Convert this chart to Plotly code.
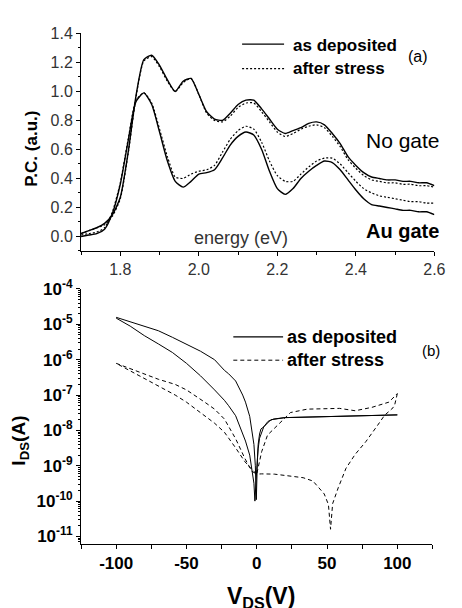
import plotly.graph_objects as go

W, H = 462, 608

# ---------------- Panel (a): photocurrent spectra ----------------
energy = [1.70, 1.72, 1.74, 1.76, 1.78, 1.80, 1.82, 1.84, 1.86, 1.88,
          1.90, 1.92, 1.94, 1.96, 1.98, 2.00, 2.02, 2.04, 2.06, 2.08,
          2.10, 2.12, 2.14, 2.16, 2.18, 2.20, 2.22, 2.24, 2.26, 2.28,
          2.30, 2.32, 2.34, 2.36, 2.38, 2.40, 2.42, 2.44, 2.46, 2.48,
          2.50, 2.52, 2.54, 2.56, 2.58, 2.60]

pc_nogate_dep = [0.02, 0.04, 0.06, 0.09, 0.15, 0.27, 0.58, 0.97, 1.22, 1.25,
                 1.18, 1.08, 1.00, 1.07, 1.09, 0.98, 0.86, 0.81, 0.80, 0.85,
                 0.91, 0.94, 0.94, 0.88, 0.81, 0.74, 0.71, 0.73, 0.75, 0.78,
                 0.79, 0.77, 0.71, 0.64, 0.55, 0.49, 0.44, 0.41, 0.40, 0.39,
                 0.39, 0.38, 0.38, 0.37, 0.37, 0.35]
pc_nogate_str = [0.02, 0.04, 0.06, 0.08, 0.14, 0.26, 0.57, 0.96, 1.21, 1.24,
                 1.17, 1.07, 1.00, 1.06, 1.09, 0.98, 0.85, 0.80, 0.79, 0.83,
                 0.89, 0.92, 0.92, 0.86, 0.79, 0.72, 0.69, 0.71, 0.74, 0.76,
                 0.77, 0.75, 0.69, 0.62, 0.53, 0.47, 0.42, 0.39, 0.38, 0.37,
                 0.37, 0.36, 0.36, 0.35, 0.35, 0.34]
pc_augate_dep = [0.00, 0.01, 0.02, 0.05, 0.16, 0.36, 0.66, 0.93, 0.99, 0.91,
                 0.72, 0.52, 0.38, 0.34, 0.38, 0.43, 0.44, 0.46, 0.54, 0.63,
                 0.69, 0.72, 0.70, 0.60, 0.45, 0.33, 0.29, 0.33, 0.40, 0.45,
                 0.49, 0.52, 0.51, 0.46, 0.39, 0.32, 0.26, 0.22, 0.21, 0.20,
                 0.19, 0.18, 0.18, 0.17, 0.17, 0.15]
pc_augate_str = [0.01, 0.02, 0.03, 0.06, 0.17, 0.37, 0.67, 0.94, 0.99, 0.92,
                 0.74, 0.55, 0.41, 0.40, 0.43, 0.45, 0.46, 0.49, 0.58, 0.67,
                 0.73, 0.76, 0.74, 0.65, 0.52, 0.42, 0.38, 0.38, 0.43, 0.48,
                 0.52, 0.54, 0.54, 0.50, 0.44, 0.38, 0.33, 0.30, 0.28, 0.27,
                 0.26, 0.25, 0.24, 0.24, 0.23, 0.23]

# ---------------- Panel (b): I-V characteristics ----------------
v_dep_fwd = [-100, -90, -80, -70, -60, -50, -40, -30, -23, -20, -15, -10, -8, -5,
             -3.5, -2, -1, -0.3, 0.5, 1, 2, 3, 5, 8, 12, 20, 40, 60, 80, 100]
i_dep_fwd = [1.58e-5, 1.2e-5, 9.1e-6, 6.6e-6, 4.3e-6, 2.8e-6, 1.74e-6, 1.0e-6, 5.0e-7,
             4.0e-7, 2.5e-7, 1.0e-7, 6.3e-8, 2.5e-8, 1.1e-8, 4.0e-9, 1.0e-9, 1.1e-10,
             1.6e-9, 4.0e-9, 7.9e-9, 1.1e-8, 1.26e-8, 1.8e-8, 2.1e-8, 2.3e-8, 2.4e-8,
             2.5e-8, 2.6e-8, 2.75e-8]
v_dep_rev = [100, 60, 20, 10, 5, 2, 1, 0, -1.3, -2, -3.5, -5, -8, -10, -15, -20,
             -23, -30, -40, -50, -60, -70, -80, -90, -100]
i_dep_rev = [2.75e-8, 2.5e-8, 2.3e-8, 2.0e-8, 1.26e-8, 6.0e-9, 3.0e-9, 8.0e-10, 1.0e-10,
             3.2e-10, 8.5e-10, 2.0e-9, 5.0e-9, 7.9e-9, 2.6e-8, 5.0e-8, 7.1e-8, 1.4e-7,
             3.5e-7, 7.9e-7, 1.6e-6, 2.8e-6, 4.8e-6, 8.9e-6, 1.5e-5]

v_str_fwd = [-100, -90, -79, -70, -58, -50, -37, -30, -23, -15, -8.4, -3.5, 0,
             2, 3.5, 7.7, 14.7, 24, 36, 50, 59, 70, 82, 94, 98.6, 100]
i_str_fwd = [7.9e-7, 5.6e-7, 3.7e-7, 2.8e-7, 2.0e-7, 1.4e-7, 6.3e-8, 4.0e-8, 2.1e-8,
             5.8e-9, 1.6e-9, 7.0e-10, 5.8e-10, 1.26e-9, 2.5e-9, 7.4e-9, 1.4e-8, 3.2e-8,
             4.0e-8, 4.2e-8, 4.2e-8, 3.6e-8, 4.5e-8, 6.3e-8, 9.5e-8, 1.1e-7]
v_str_rev = [100, 98, 96, 91, 86, 77.6, 70, 63.5, 58, 54, 52.5, 51, 48, 40, 33, 24,
             12.5, 3.5, 0, -3.5, -8.4, -15, -23, -30, -37, -50, -58, -70, -79, -90, -100]
i_str_rev = [1.1e-7, 5.0e-8, 4.0e-8, 2.7e-8, 1.4e-8, 4.8e-9, 2.1e-9, 8.5e-10, 2.4e-10,
             8.5e-11, 1.6e-11, 8.0e-11, 1.6e-10, 3.7e-10, 4.6e-10, 5.0e-10, 5.8e-10,
             5.9e-10, 5.8e-10, 7.9e-10, 1.3e-9, 3.2e-9, 8.9e-9, 1.6e-8, 2.6e-8, 6.3e-8,
             1.0e-7, 1.8e-7, 2.7e-7, 4.7e-7, 7.9e-7]

xtick_vals_b = [-100, -50, 0, 50, 100]
xtick_text_b = ["<b>-100</b>", "<b>-50</b>", "<b>0</b>", "<b>50</b>", "<b>100</b>"]
ytick_vals_b = [1e-11, 1e-10, 1e-9, 1e-8, 1e-7, 1e-6, 1e-5, 1e-4]
ytick_text_b = ["<b>10<sup>-11</sup></b>", "<b>10<sup>-10</sup></b>", "<b>10<sup>-9</sup></b>",
                "<b>10<sup>-8</sup></b>", "<b>10<sup>-7</sup></b>", "<b>10<sup>-6</sup></b>",
                "<b>10<sup>-5</sup></b>", "<b>10<sup>-4</sup></b>"]


def px(x):
    return x / W


def py(y):
    return 1 - y / H


fig = go.Figure()

dot_a = "2px,2px"
dash_b = "4px,3px"

for yvals, dash, wd in [(pc_nogate_dep, None, 1.4), (pc_nogate_str, dot_a, 1.2),
                        (pc_augate_dep, None, 1.4), (pc_augate_str, dot_a, 1.2)]:
    fig.add_trace(go.Scatter(x=energy, y=yvals, mode="lines", xaxis="x", yaxis="y",
                             line=dict(color="black", width=wd, dash=dash, shape="spline",
                                       smoothing=0.6),
                             showlegend=False))

for xv, yv, dash in [(v_dep_fwd, i_dep_fwd, None), (v_dep_rev, i_dep_rev, None),
                     (v_str_fwd, i_str_fwd, dash_b), (v_str_rev, i_str_rev, dash_b)]:
    fig.add_trace(go.Scatter(x=xv, y=yv, mode="lines", xaxis="x2", yaxis="y2",
                             line=dict(color="black", width=1, dash=dash),
                             showlegend=False))

tickfont_a = dict(family="Liberation Sans, Arial", size=16, color="#333")
tickfont_b = dict(family="Liberation Sans, Arial", size=17, color="black")

fig.update_layout(
    width=W, height=H, margin=dict(l=0, r=0, t=0, b=0),
    paper_bgcolor="white", plot_bgcolor="white", showlegend=False,
    xaxis=dict(domain=[px(83), px(445)], range=[1.7, 2.6], anchor="y",
               tickmode="linear", tick0=1.8, dtick=0.2, tickformat=".1f",
               showline=True, linecolor="black", linewidth=1, ticks="outside",
               ticklen=4, tickcolor="black", showgrid=False, zeroline=False,
               tickfont=tickfont_a,
               minor=dict(tickmode="linear", tick0=1.7, dtick=0.1, ticks="outside",
                          ticklen=3, tickcolor="black", showgrid=False)),
    yaxis=dict(domain=[py(245), py(22)], range=[-0.1, 1.4], anchor="x",
               tickmode="linear", tick0=0, dtick=0.2, tickformat=".1f",
               showline=True, linecolor="black", linewidth=1, ticks="outside",
               ticklen=4, tickcolor="black", showgrid=False, zeroline=False,
               tickfont=tickfont_a,
               minor=dict(tickmode="linear", tick0=0, dtick=0.1, ticks="outside",
                          ticklen=2, tickcolor="black", showgrid=False)),
    xaxis2=dict(domain=[px(83), px(443)], range=[-125, 125], anchor="y2",
                tickmode="array", tickvals=xtick_vals_b, ticktext=xtick_text_b,
                showline=True, linecolor="black", linewidth=1, ticks="outside",
                ticklen=4, tickcolor="black", showgrid=False, zeroline=False,
                tickfont=tickfont_b,
                minor=dict(tickmode="linear", tick0=-125, dtick=25, ticks="outside",
                           ticklen=4, tickcolor="black", showgrid=False)),
    yaxis2=dict(domain=[py(545), py(284)], type="log", range=[-11.2, -4], anchor="x2",
                tickmode="array", tickvals=ytick_vals_b, ticktext=ytick_text_b,
                showline=True, linecolor="black", linewidth=1, ticks="outside",
                ticklen=4, tickcolor="black", showgrid=False, zeroline=False,
                tickfont=tickfont_b,
                minor=dict(ticks="outside", ticklen=2, tickcolor="black",
                           dtick="D1", showgrid=False)),
)

ann = []


def text(x, y, s, size, bold=False, angle=0, xanchor="center", color="black"):
    ann.append(dict(x=px(x), y=py(y), xref="paper", yref="paper", text=(f"<b>{s}</b>" if bold else s),
                    showarrow=False, xanchor=xanchor, yanchor="middle", textangle=angle,
                    font=dict(family="Liberation Sans, Arial", size=size, color=color)))


# Panel (a) texts
text(32, 140, "P.C. (a.u.)", 17, bold=True, angle=-90)
text(247, 232, "energy (eV)", 18, color="#333")
text(413, 132, "No gate", 21)
text(412, 225, "Au gate", 20, bold=True)
text(298, 34, "as deposited", 17, bold=True, xanchor="left")
text(298, 58, "after stress", 17, bold=True, xanchor="left")
text(428, 46, "(a)", 16)
# Panel (b) texts
text(292, 333, "as deposited", 18, bold=True, xanchor="left")
text(292, 357, "after stress", 18, bold=True, xanchor="left")
text(442, 347, "(b)", 15)
text(21, 440, "I<sub>DS</sub>(A)", 19, bold=True, angle=-90)
text(267, 600, "V<sub>DS</sub>(V)", 23, bold=True)

shapes = [
    dict(type="line", xref="paper", yref="paper", x0=px(248), x1=px(291), y0=py(33), y1=py(33),
         line=dict(color="black", width=1.2)),
    dict(type="line", xref="paper", yref="paper", x0=px(248), x1=px(291), y0=py(58), y1=py(58),
         line=dict(color="black", width=1.2, dash=dot_a)),
    dict(type="line", xref="paper", yref="paper", x0=px(239), x1=px(290), y0=py(333), y1=py(333),
         line=dict(color="black", width=1.2)),
    dict(type="line", xref="paper", yref="paper", x0=px(239), x1=px(290), y0=py(357), y1=py(357),
         line=dict(color="black", width=1, dash=dash_b)),
]

fig.update_layout(annotations=ann, shapes=shapes)

fig.write_html("out.html")
